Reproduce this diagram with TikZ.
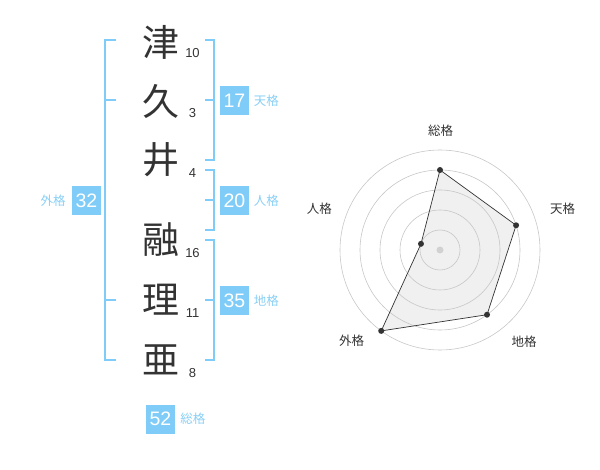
\documentclass[tikz,border=0pt]{standalone}
\usepackage{fontspec}
\usetikzlibrary{positioning,calc}
\setmainfont{Liberation Sans}
\newfontfamily\cjk{Noto Sans CJK JP}
\definecolor{brk}{HTML}{7FCCF8}
\definecolor{lbl}{HTML}{88CFF5}
\definecolor{ink}{HTML}{333333}
\begin{document}
\begin{tikzpicture}[x=1pt,y=-1pt,
  kanji/.style={font=\cjk\fontsize{37}{37}\selectfont, text=ink, inner sep=0pt},
  stroke/.style={font=\fontsize{13}{13}\selectfont, text=ink, inner sep=0pt},
  valbox/.style={fill=brk, text=white, font=\fontsize{19.5}{19.5}\selectfont, minimum width=29pt, minimum height=29pt, inner sep=0pt},
  kaku/.style={font=\cjk\fontsize{12.5}{12.5}\selectfont, text=lbl, inner sep=0pt},
  bracket/.style={draw=brk, line width=2pt},
  ring/.style={draw=black!22, line width=0.6pt},
  axlab/.style={font=\cjk\fontsize{12.5}{12.5}\selectfont, text=ink, inner sep=0pt},
  dot/.style={circle, fill=ink, inner sep=0pt, minimum size=6pt}]
\useasboundingbox (0,0) rectangle (600,470);
% characters
\node[kanji] (c1) at (160.5,42) {津};
\node[kanji] (c2) at (160.5,101) {久};
\node[kanji] (c3) at (160.5,160) {井};
\node[kanji] (c4) at (160.5,240) {融};
\node[kanji] (c5) at (160.5,300) {理};
\node[kanji] (c6) at (160.5,360) {亜};
% stroke counts
\node[stroke] (s1) at (192.5,53) {10};
\node[stroke] (s2) at (192.5,113) {3};
\node[stroke] (s3) at (192.5,173) {4};
\node[stroke] (s4) at (192.5,253) {16};
\node[stroke] (s5) at (192.5,313) {11};
\node[stroke] (s6) at (192.5,373) {8};
% outer bracket (gaikaku)
\draw[bracket] (116,40) -- (105,40) -- (105,360) -- (116,360);
\draw[bracket] (105,100) -- (116,100);
\draw[bracket] (105,300) -- (116,300);
% right brackets
\draw[bracket] (205,40) -- (214,40) -- (214,160) -- (205,160);
\draw[bracket] (205,100) -- (214,100);
\draw[bracket] (205,170) -- (214,170) -- (214,230) -- (205,230);
\draw[bracket] (205,200) -- (214,200);
\draw[bracket] (205,240) -- (214,240) -- (214,360) -- (205,360);
\draw[bracket] (205,300) -- (214,300);
% value boxes
\node[valbox] (b17) at (234.5,100.5) {17};
\node[kaku, right=4.5pt of b17] (l17) {天格};
\node[valbox] (b20) at (234.5,200.5) {20};
\node[kaku, right=4.5pt of b20] (l20) {人格};
\node[valbox] (b35) at (234.5,300.5) {35};
\node[kaku, right=4.5pt of b35] (l35) {地格};
\node[valbox] (b32) at (86.5,200.5) {32};
\node[kaku, left=6pt of b32] (l32) {外格};
\node[valbox] (b52) at (160.5,419) {52};
\node[kaku, right=5pt of b52] (l52) {総格};
% radar chart
\coordinate (o) at (440,250);
\coordinate (pS) at ($(o)+(-90:80)$);
\coordinate (pT) at ($(o)+(-18:80)$);
\coordinate (pC) at ($(o)+(54:80)$);
\coordinate (pG) at ($(o)+(126:100)$);
\coordinate (pJ) at ($(o)+(-162:20)$);
\fill[black!6] (pS) -- (pT) -- (pC) -- (pG) -- (pJ) -- cycle;
\foreach \r in {20,40,60,80,100} \draw[ring] (o) circle (\r);
\fill[black!18] (o) circle (3.5);
\draw[draw=ink, line width=0.7pt] (pS) -- (pT) -- (pC) -- (pG) -- (pJ) -- cycle;
\foreach \p in {pS,pT,pC,pG,pJ} \node[dot] at (\p) {};
\node[axlab] (aS) at (440.7,130.5) {総格};
\node[axlab] (aT) at (562.7,209) {天格};
\node[axlab] (aC) at (524,341.7) {地格};
\node[axlab] (aG) at (351.7,341) {外格};
\node[axlab] (aJ) at (319.3,209) {人格};
\end{tikzpicture}
\end{document}
